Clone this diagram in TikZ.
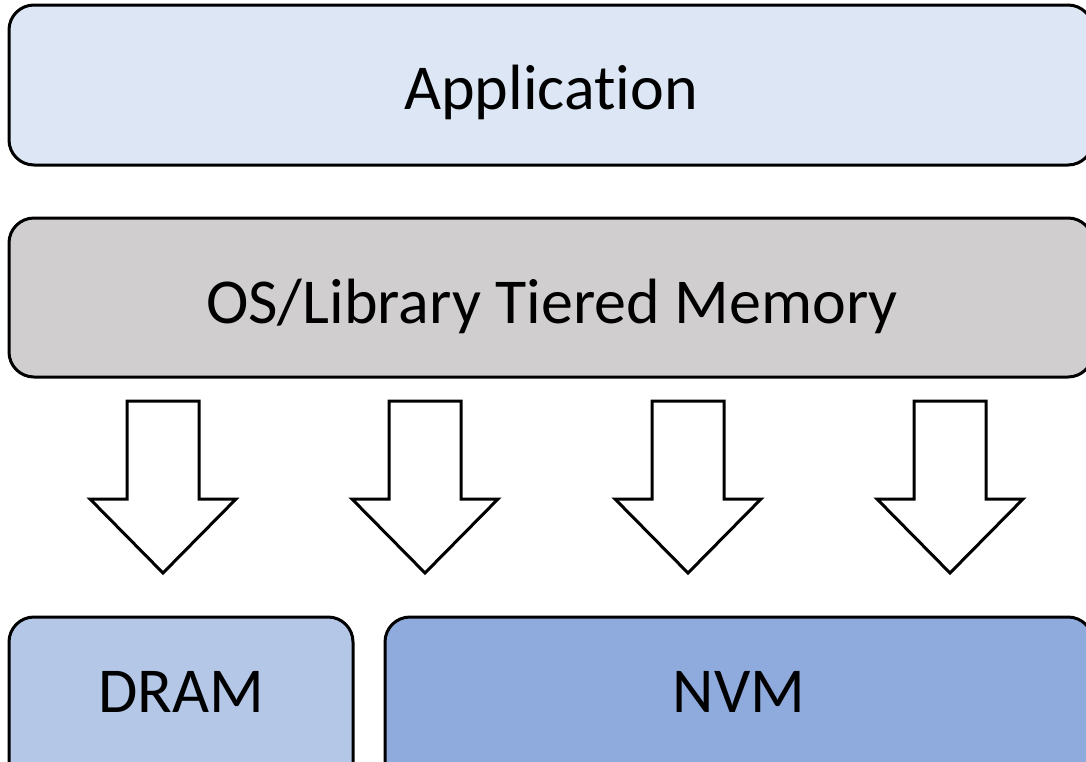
\documentclass[tikz,border=0pt]{standalone}
\usepackage{fontspec}
\setmainfont{Carlito}[Ligatures=NoCommon]
\definecolor{appfill}{HTML}{DCE6F4}
\definecolor{osfill}{HTML}{D0CECE}
\definecolor{dramfill}{HTML}{B4C7E7}
\definecolor{nvmfill}{HTML}{8FAADC}
\begin{document}
\begin{tikzpicture}[x=1pt,y=-1pt,
  layer/.style={draw=black, line width=3pt, rounded corners=25pt},
  lbl/.style={font=\fontsize{64}{70}\selectfont, anchor=base, inner sep=0pt},
  blockarrow/.style={draw=black, line width=3pt, fill=white, line join=miter}]
\useasboundingbox (0,0) rectangle (1086,761);
\clip (0,0) rectangle (1086,761);

% stacked layers
\filldraw[layer, fill=appfill] (9,5) rectangle (1093,165);
\node[lbl] (app) at (551,109) {Application};

\filldraw[layer, fill=osfill] (9,218) rectangle (1093,377);
\node[lbl] (os) at (552,323) {OS/Library Tiered Memory};

\filldraw[layer, fill=dramfill] (9,617) rectangle (353,790);
\node[lbl] (dram) at (181,712) {DRAM};

\filldraw[layer, fill=nvmfill] (385,617) rectangle (1093,790);
\node[lbl] (nvm) at (739,712) {NVM};

% downward block arrows
\foreach \cx in {163,425,688,950}{
  \filldraw[blockarrow]
    (\cx-36,401) -- (\cx+36,401) -- (\cx+36,499) -- (\cx+73,499)
    -- (\cx,573) -- (\cx-73,499) -- (\cx-36,499) -- cycle;
}
\end{tikzpicture}
\end{document}
